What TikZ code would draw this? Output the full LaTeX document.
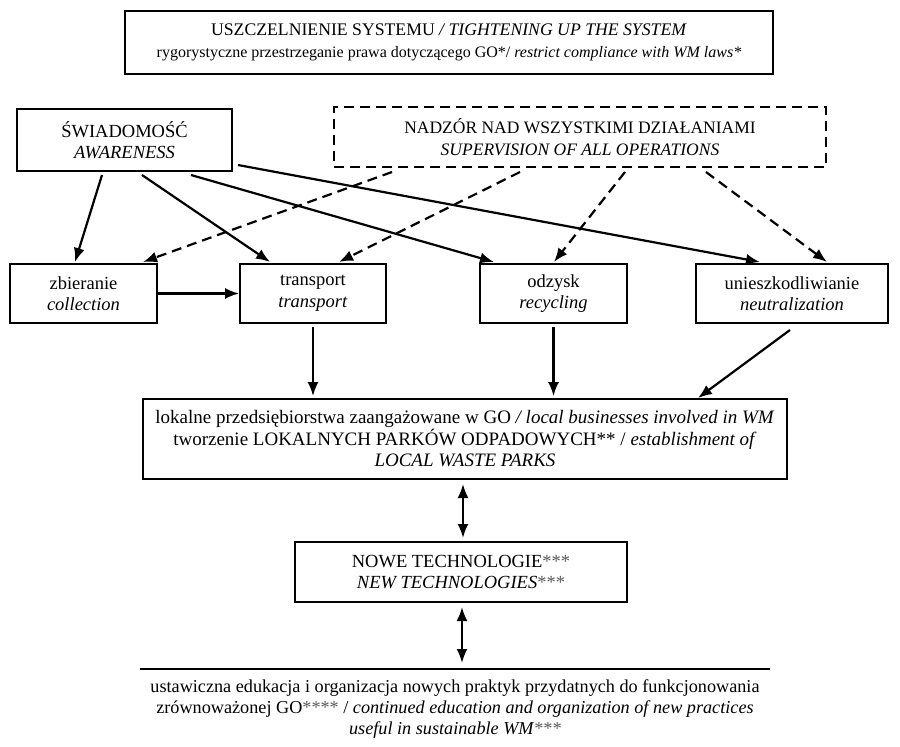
\documentclass[tikz,border=0pt]{standalone}
\usepackage{fontspec}
\setmainfont{Liberation Serif}
\usetikzlibrary{arrows.meta,calc}
\begin{document}
\begin{tikzpicture}[x=1pt,y=-1pt,
  box/.style={draw,line width=1.8pt,inner sep=0pt,align=center,font=\fontsize{18.5}{21.5}\selectfont},
  tip/.tip={Latex[length=14pt,width=11pt]},
  arr/.style={line width=2.2pt,-tip},
  darr/.style={arr,dash pattern=on 10pt off 6pt},
  dbl/.style={line width=2.2pt,tip-tip}]
\useasboundingbox[fill=white] (0,0) rectangle (900,747);
% nodes
\node[box,minimum width=648pt,minimum height=63pt] (top) at (449,42.5)
  {{\fontsize{17.7}{21}\selectfont USZCZELNIENIE SYSTEMU \textit{/ TIGHTENING UP THE SYSTEM}}\\
   {\fontsize{16}{21}\selectfont rygorystyczne przestrzeganie prawa dotyczącego GO*/ \textit{restrict compliance with WM laws*}}};
\node[box,minimum width=215pt,minimum height=62pt] (sw) at (124.5,140) {ŚWIADOMOŚĆ\\\textit{AWARENESS}};
\node[box,dash pattern=on 10pt off 6pt,minimum width=492pt,minimum height=60pt,font=\fontsize{17.5}{21.5}\selectfont] (nad) at (580,137)
  {NADZÓR NAD WSZYSTKIMI DZIAŁANIAMI\\\textit{SUPERVISION OF ALL OPERATIONS}};
\node[box,minimum width=147pt,minimum height=59pt] (zb) at (83.5,293.5) {zbieranie\\\textit{collection}};
\node[box,minimum width=146pt,minimum height=59pt] (tr) at (313,293.5) {transport\\\textit{transport}};
\node[box,minimum width=147pt,minimum height=59pt] (od) at (553.5,293.5) {odzysk\\\textit{recycling}};
\node[box,minimum width=192pt,minimum height=59pt] (un) at (792,293.5) {unieszkodliwianie\\\textit{neutralization}};
\node[box,minimum width=644pt,minimum height=80pt,font=\fontsize{19}{21.5}\selectfont] (lok) at (465,439)
  {lokalne przedsiębiorstwa zaangażowane w GO \textit{/ local businesses involved in WM}\\
   tworzenie LOKALNYCH PARKÓW ODPADOWYCH** / \textit{establishment of}\\
   \textit{LOCAL WASTE PARKS}};
\node[box,minimum width=332pt,minimum height=60pt] (nowe) at (461,572)
  {NOWE TECHNOLOGIE{\color{black!65}***}\\\textit{NEW TECHNOLOGIES}{\color{black!65}***}};
\node[align=center,inner sep=0pt,font=\fontsize{18.2}{21}\selectfont,minimum width=630pt,minimum height=80pt] (bot) at (455,709)
  {ustawiczna edukacja i organizacja nowych praktyk przydatnych do funkcjonowania\\
   zrównoważonej GO{\color{black!65}****} / \textit{continued education and organization of new practices}\\
   \textit{useful in sustainable WM{\color{black!65}***}}};
\draw[line width=1.8pt] (bot.north west) -- (bot.north east);
% coordinates for connectors
\coordinate (s1) at (102,175); \coordinate (e1) at (75,262);
\coordinate (s2) at (142,175); \coordinate (e2) at (270,262);
\coordinate (s3) at (191,175); \coordinate (e3) at (494,262);
\coordinate (s4) at (238,165); \coordinate (e4) at (760,262);
\coordinate (d1) at (392,172); \coordinate (f1) at (143,262);
\coordinate (d2) at (520,172); \coordinate (f2) at (339,262);
\coordinate (d3) at (625,172); \coordinate (f3) at (554,262);
\coordinate (d4) at (706,172); \coordinate (f4) at (827,262);
% solid arrows from awareness
\draw[arr] (s1) -- (e1);
\draw[arr] (s2) -- (e2);
\draw[arr] (s3) -- (e3);
\draw[arr] (s4) -- (e4);
% dashed arrows from supervision
\draw[darr] (d1) -- (f1);
\draw[darr] (d2) -- (f2);
\draw[darr] (d3) -- (f3);
\draw[darr] (d4) -- (f4);
% row connections
\draw[arr] (zb.east) -- (tr.west);
\draw[arr] ([yshift=-3pt]tr.south) -- ([yshift=2pt]tr.south |- lok.north);
\draw[arr] ([yshift=-3pt]od.south) -- ([yshift=2pt]od.south |- lok.north);
\coordinate (u1) at (790,330); \coordinate (u2) at (698,398);
\draw[arr] (u1) -- (u2);
\coordinate (m1) at (463,484); \coordinate (m2) at (463,538);
\coordinate (n1) at (462,607); \coordinate (n2) at (462,663);
\draw[dbl] (m1) -- (m2);
\draw[dbl] (n1) -- (n2);
\end{tikzpicture}
\end{document}
